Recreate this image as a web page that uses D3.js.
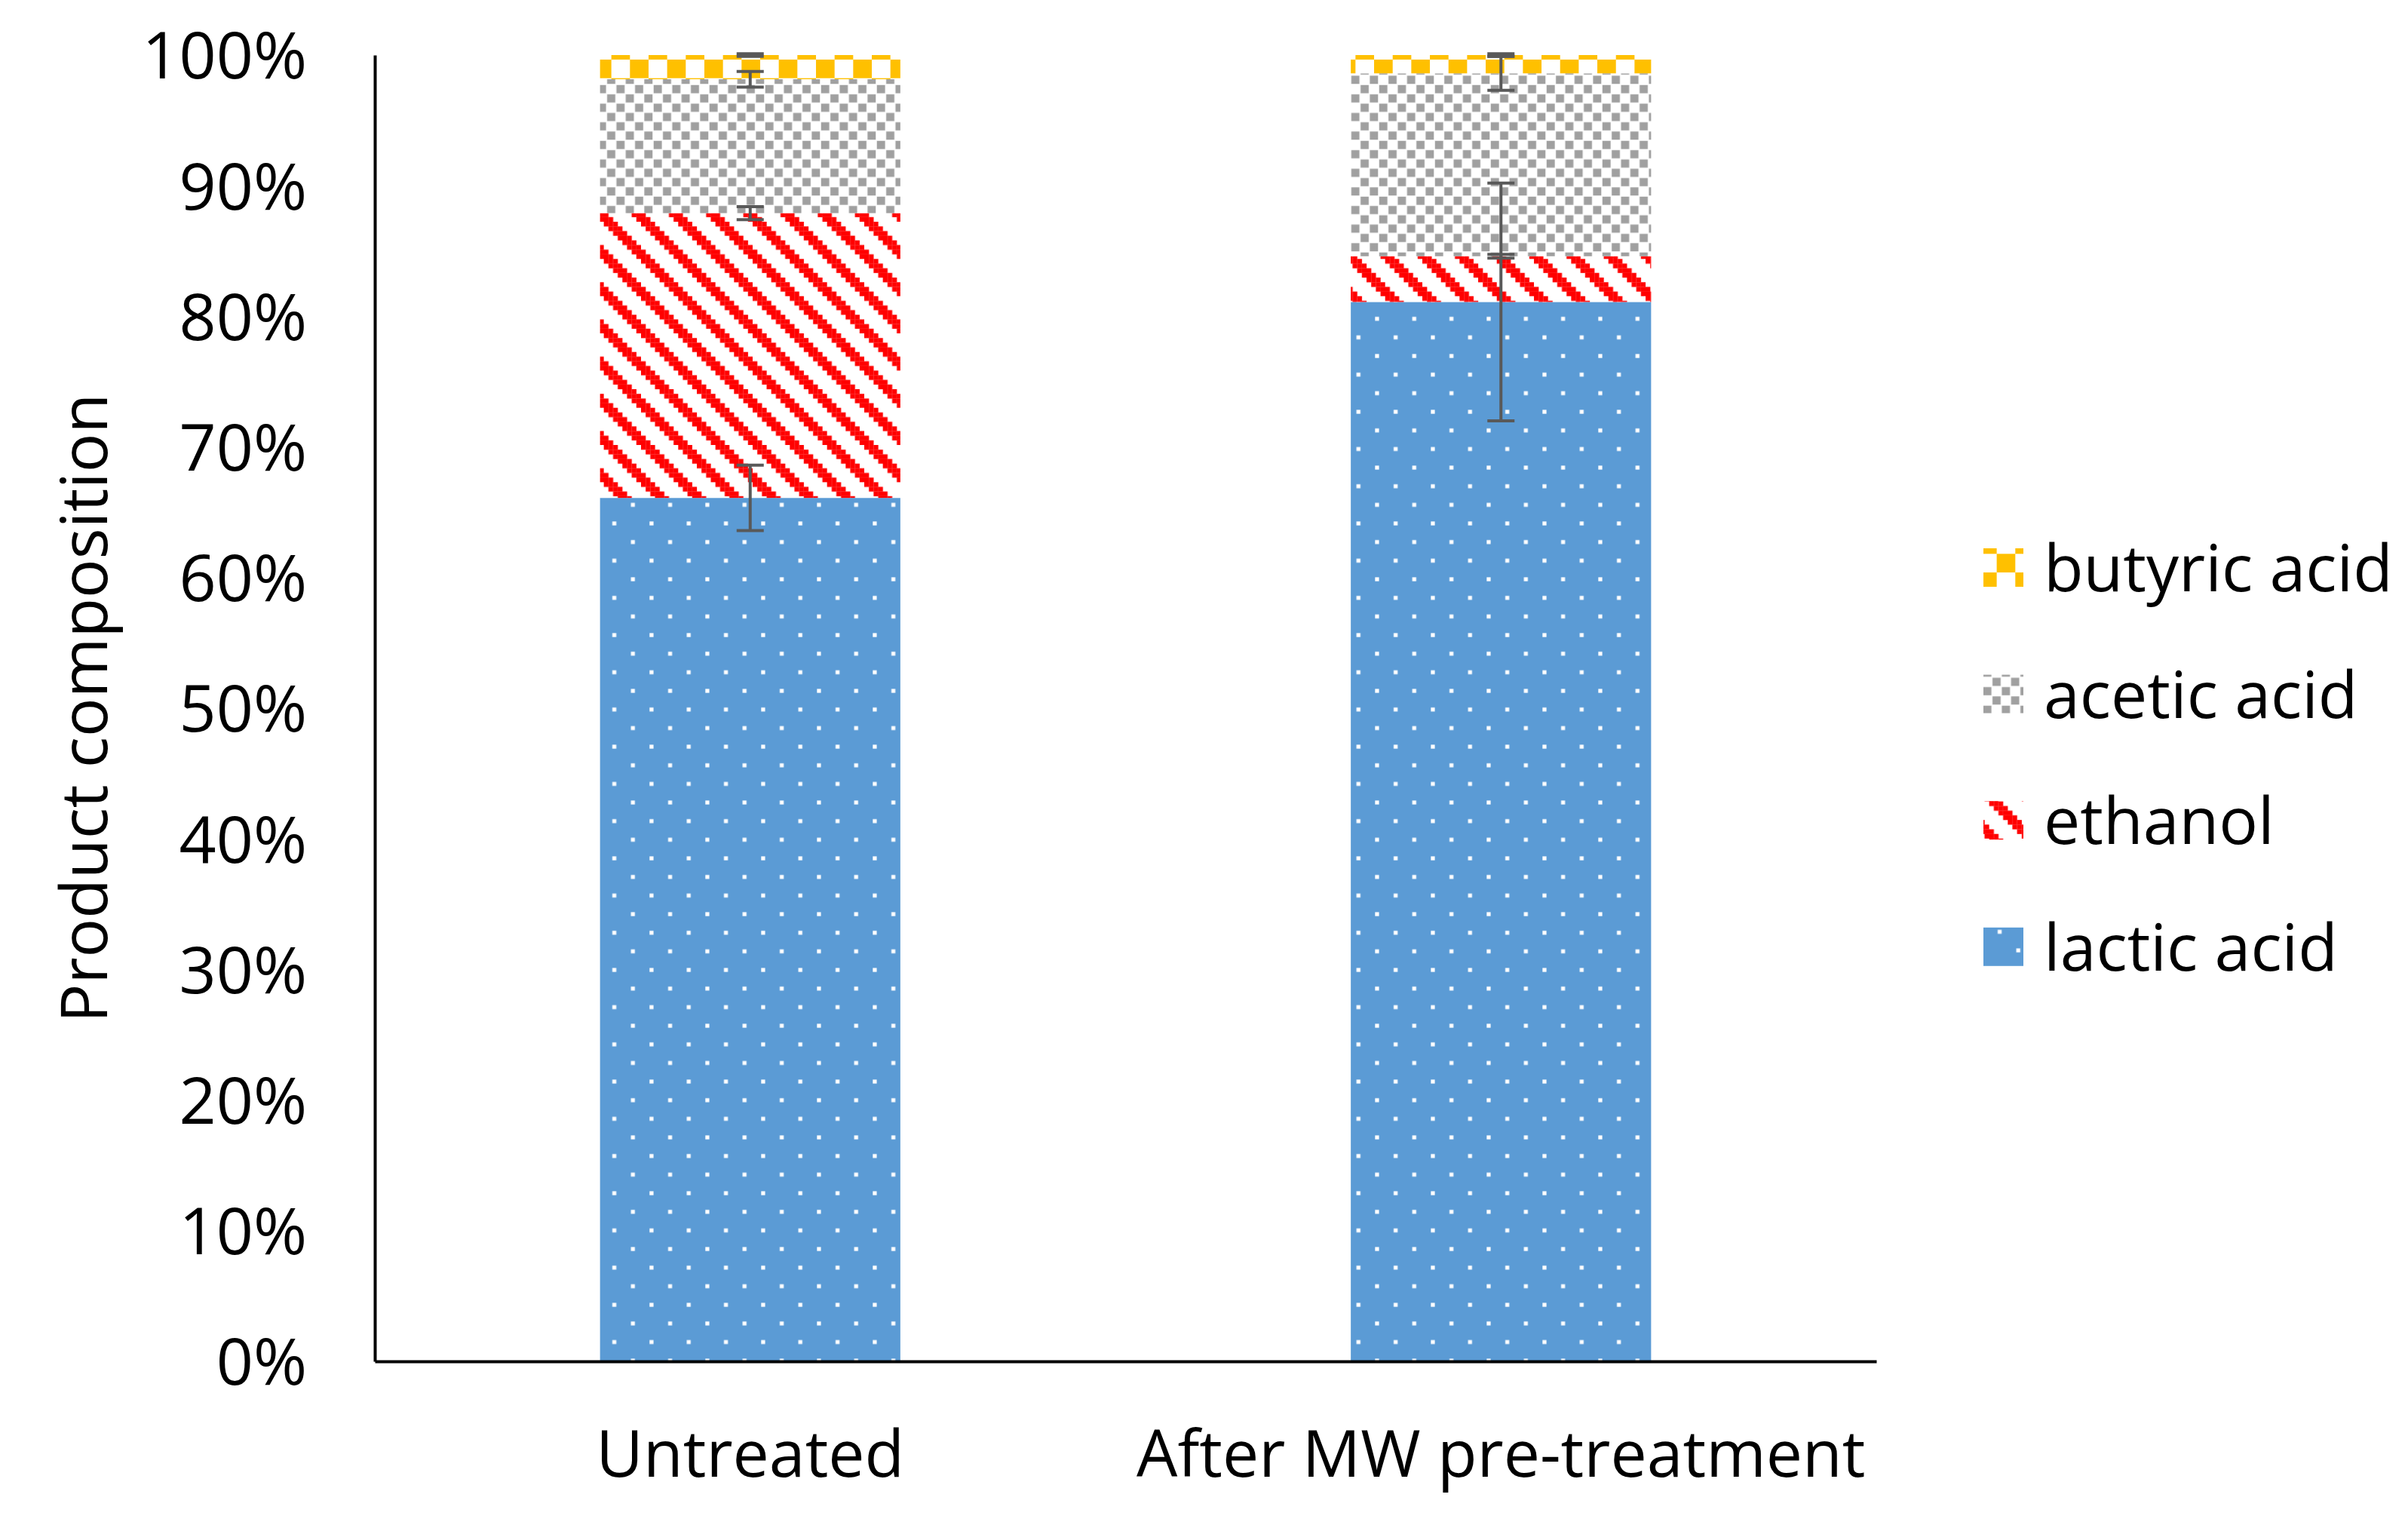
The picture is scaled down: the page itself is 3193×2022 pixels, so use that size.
<!DOCTYPE html>
<html>
<head>
<meta charset="utf-8">
<script src="https://cdn.jsdelivr.net/npm/d3@7"></script>
<style>
  body { margin: 0; background: #fff; }
  text { font-family: "Open Sans", sans-serif; fill: #000; }
</style>
</head>
<body>
<script>
// chart values (percent of product)
var categories = ["Untreated", "After MW pre-treatment"];
var seriesNames = ["lactic acid", "ethanol", "acetic acid", "butyric acid"];
var lactic = [66.1, 81.1];
var ethanol = [21.8, 3.5];
var acetic = [10.25, 14.0];
var butyric = [1.85, 1.4];
// error bar half-widths
var lacticErr = [2.5, 9.1];
var ethanolErr = [0.5, 0.15];
var aceticErr = [0.6, 1.3];
var butyricErr = [0.1, 0.1];
var yTicks = [0, 10, 20, 30, 40, 50, 60, 70, 80, 90, 100];

var W = 3193, H = 2022;
var margin = {top: 73, right: 705, bottom: 217, left: 497};
var width = W - margin.left - margin.right,
    height = H - margin.top - margin.bottom;

var svg = d3.select("body").append("svg")
  .attr("width", W)
  .attr("height", H);

// build rows for d3.stack
var keys = ["lactic", "ethanol", "acetic", "butyric"];
var values = {lactic: lactic, ethanol: ethanol, acetic: acetic, butyric: butyric};
var errs = {lactic: lacticErr, ethanol: ethanolErr, acetic: aceticErr, butyric: butyricErr};
var rows = categories.map(function(c, i) {
  var r = {name: c};
  keys.forEach(function(k) { r[k] = values[k][i]; });
  return r;
});
var stacked = d3.stack().keys(keys)(rows);

// excel-like fill patterns, drawn on an 8x8 grid and scaled up
var px = 6.167;
var defs = svg.append("defs");
function makePattern(id, ox, oy, bg) {
  var p = defs.append("pattern")
    .attr("id", id)
    .attr("patternUnits", "userSpaceOnUse")
    .attr("width", 8).attr("height", 8)
    .attr("patternTransform", "translate(" + ox + "," + oy + ") scale(" + px + ")");
  p.append("rect").attr("width", 8).attr("height", 8).attr("fill", bg);
  return p;
}

// lactic acid: 5% dots
var pLac = makePattern("p-lactic", 808, 1703.5, "#5B9BD5");
[[0, 0], [4, 4]].forEach(function(d) {
  pLac.append("rect").attr("x", d[0] + 0.05).attr("y", d[1] + 0.05)
    .attr("width", 0.85).attr("height", 0.85).attr("fill", "#fff");
});

// ethanol: wide downward diagonal
var pEth = makePattern("p-ethanol", 797, 73, "#fff");
d3.range(8).forEach(function(r) {
  d3.range(3).forEach(function(j) {
    pEth.append("rect").attr("x", (r + j) % 8).attr("y", r)
      .attr("width", 1.02).attr("height", 1.02).attr("fill", "#FF0000");
  });
});

// acetic acid: small checkerboard
var pAce = makePattern("p-acetic", 813, 113, "#fff");
[[0, 0], [4, 0], [2, 2], [6, 2], [0, 4], [4, 4], [2, 6], [6, 6]].forEach(function(d) {
  pAce.append("rect").attr("x", d[0] + 0.12).attr("y", d[1] + 0.12)
    .attr("width", 1.76).attr("height", 1.76).attr("fill", "#A0A0A0");
});

// butyric acid: large checkerboard
var pBut = makePattern("p-butyric", 807, 80, "#fff");
[[0, 0], [4, 4]].forEach(function(d) {
  pBut.append("rect").attr("x", d[0]).attr("y", d[1])
    .attr("width", 4).attr("height", 4).attr("fill", "#FFC000");
});

var fills = {lactic: "url(#p-lactic)", ethanol: "url(#p-ethanol)",
             acetic: "url(#p-acetic)", butyric: "url(#p-butyric)"};

// scales
var x = d3.scaleBand()
  .domain(categories)
  .range([0, width])
  .paddingInner(0.6)
  .paddingOuter(0.3);
var y = d3.scaleLinear()
  .domain([0, 100])
  .range([height, 0]);

var g = svg.append("g")
  .attr("transform", "translate(" + margin.left + "," + margin.top + ")");

// bars
g.selectAll(".layer")
  .data(stacked).enter()
  .append("g")
  .attr("class", "layer")
  .attr("fill", function(d) { return fills[d.key]; })
  .selectAll("rect")
  .data(function(d) { return d; }).enter()
  .append("rect")
  .attr("x", function(d) { return x(d.data.name); })
  .attr("width", x.bandwidth())
  .attr("y", function(d) { return y(d[1]); })
  .attr("height", function(d) { return y(d[0]) - y(d[1]); });

// error bars at top of each segment
var errData = [];
stacked.forEach(function(layer) {
  layer.forEach(function(d, i) {
    errData.push({cat: d.data.name, v: d[1], e: errs[layer.key][i]});
  });
});
var cap = 18;
var eb = g.selectAll(".err")
  .data(errData).enter()
  .append("g")
  .attr("class", "err")
  .attr("stroke", "#595959")
  .attr("stroke-width", 4);
eb.append("line")
  .attr("x1", function(d) { return x(d.cat) + x.bandwidth() / 2; })
  .attr("x2", function(d) { return x(d.cat) + x.bandwidth() / 2; })
  .attr("y1", function(d) { return y(d.v - d.e); })
  .attr("y2", function(d) { return y(d.v + d.e); });
eb.append("line")
  .attr("x1", function(d) { return x(d.cat) + x.bandwidth() / 2 - cap; })
  .attr("x2", function(d) { return x(d.cat) + x.bandwidth() / 2 + cap; })
  .attr("y1", function(d) { return y(d.v + d.e); })
  .attr("y2", function(d) { return y(d.v + d.e); });
eb.append("line")
  .attr("x1", function(d) { return x(d.cat) + x.bandwidth() / 2 - cap; })
  .attr("x2", function(d) { return x(d.cat) + x.bandwidth() / 2 + cap; })
  .attr("y1", function(d) { return y(d.v - d.e); })
  .attr("y2", function(d) { return y(d.v - d.e); });

// y axis
var yAxis = g.append("g")
  .call(d3.axisLeft(y).tickValues(yTicks).tickSize(0).tickPadding(90)
    .tickFormat(function(d) { return d + "%"; }));
yAxis.select(".domain").attr("stroke", "#000").attr("stroke-width", 4);
yAxis.selectAll("text").style("font-size", "86px").attr("dy", "0.36em");

// x axis
var xAxis = g.append("g")
  .attr("transform", "translate(0," + height + ")")
  .call(d3.axisBottom(x).tickSize(0).tickPadding(92));
xAxis.select(".domain").attr("stroke", "#000").attr("stroke-width", 4);
xAxis.selectAll("text").style("font-size", "86px");

// y axis title
svg.append("text")
  .attr("transform", "translate(112," + (margin.top + height / 2) + ") rotate(-90)")
  .attr("text-anchor", "middle")
  .attr("dy", "0.35em")
  .style("font-size", "86px")
  .text("Product composition");

// legend
var legendKeys = keys.slice().reverse();
var legendNames = seriesNames.slice().reverse();
var legend = svg.append("g")
  .attr("transform", "translate(2630,753)");
var item = legend.selectAll(".item")
  .data(legendKeys).enter()
  .append("g")
  .attr("transform", function(d, i) { return "translate(0," + (i * 167.6) + ")"; });
item.append("rect")
  .attr("y", -26)
  .attr("width", 53)
  .attr("height", 51)
  .attr("fill", function(d) { return fills[d]; });
item.append("text")
  .attr("x", 80)
  .attr("dy", "0.36em")
  .style("font-size", "86px")
  .text(function(d, i) { return legendNames[i]; });
</script>
</body>
</html>
